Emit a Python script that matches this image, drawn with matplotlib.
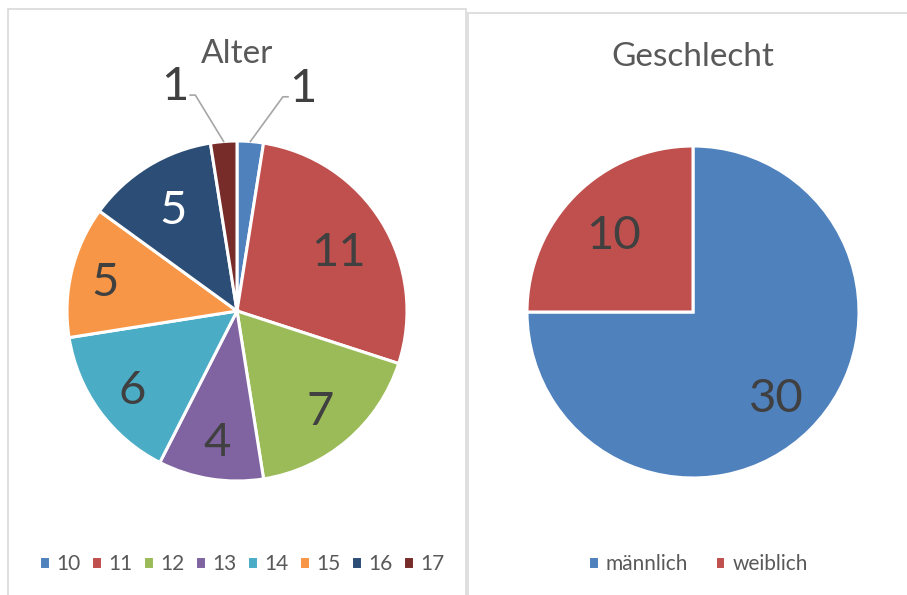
import matplotlib.pyplot as plt
from matplotlib.patches import Rectangle
import numpy as np

plt.rcParams['font.family'] = ['Lato', 'DejaVu Sans']

# Daten
alter_labels = ['10', '11', '12', '13', '14', '15', '16', '17']
alter_werte = [1, 11, 7, 4, 6, 5, 5, 1]
alter_farben = ['#4F81BD', '#C0504D', '#9BBB59', '#8064A2',
                '#4BACC6', '#F79646', '#2C4D75', '#772C2A']

geschlecht_labels = ['männlich', 'weiblich']
geschlecht_werte = [30, 10]
geschlecht_farben = ['#4F81BD', '#C0504D']

W, H = 907, 595
fig = plt.figure(figsize=(W / 100, H / 100), dpi=100)


def px_axes(cx, cy, r):
    # Achse um den Mittelpunkt (Pixel, von oben gemessen)
    return fig.add_axes([(cx - r) / W, 1 - (cy + r) / H, 2 * r / W, 2 * r / H])


# Rahmen der beiden Diagramme
fig.patches.append(Rectangle((8 / W, -0.01), 458 / W, 1 - 9 / H + 0.01,
                             transform=fig.transFigure, fill=False,
                             edgecolor='#D9D9D9', linewidth=1.2))
fig.patches.append(Rectangle((468 / W, -0.01), 445 / W, 1 - 13 / H + 0.01,
                             transform=fig.transFigure, fill=False,
                             edgecolor='#D9D9D9', linewidth=1.2))

leg_kw = dict(loc='center', frameon=False, fontsize=15, handlelength=0.5,
              handleheight=0.55, handletextpad=0.33, labelcolor='#595959')
kante = dict(edgecolor='white', linewidth=2.2)

# --- Alter ---
ax1 = px_axes(237, 311, 170)
wedges1, _ = ax1.pie(alter_werte, colors=alter_farben, startangle=90,
                     counterclock=False, wedgeprops=kante)
ax1.set_xlim(-1, 1)
ax1.set_ylim(-1, 1)

# Abstand der Beschriftung vom Mittelpunkt (Anteil des Radius)
abstand = [0, 0.70, 0.75, 0.76, 0.76, 0.80, 0.72, 0]
for i, w in enumerate(wedges1):
    ang = np.deg2rad((w.theta1 + w.theta2) / 2)
    if alter_werte[i] > 1:
        farbe = 'white' if i == 6 else '#404040'
        ax1.text(abstand[i] * np.cos(ang), abstand[i] * np.sin(ang),
                 str(alter_werte[i]), ha='center', va='center_baseline',
                 fontsize=34, color=farbe)

# kleine Segmente mit Führungslinien
for i, (lx, ly) in [(0, (0.39, 1.33)), (7, (-0.365, 1.34))]:
    w = wedges1[i]
    ang = np.deg2rad((w.theta1 + w.theta2) / 2)
    ex, ey = np.cos(ang), np.sin(ang)
    side = 1 if lx > 0 else -1
    knick = (lx - side * 0.12, ly - 0.07)
    ax1.plot([ex, knick[0], knick[0] + side * 0.03],
             [ey, knick[1], knick[1]], color='#A6A6A6', lw=1.2,
             clip_on=False)
    ax1.text(lx, ly, str(alter_werte[i]), ha='center', va='center_baseline',
             fontsize=34, color='#404040', clip_on=False)

fig.text(237 / W, 1 - 54 / H, 'Alter', ha='center', va='center',
         fontsize=24, color='#595959')
fig.legend(wedges1, alter_labels, ncol=8,
           bbox_to_anchor=(242 / W, 1 - 564 / H), columnspacing=0.5,
           **leg_kw)

# --- Geschlecht ---
ax2 = px_axes(693, 312, 166)
wedges2, _ = ax2.pie(geschlecht_werte, colors=geschlecht_farben, startangle=90,
                     counterclock=False, wedgeprops=kante)
ax2.set_xlim(-1, 1)
ax2.set_ylim(-1, 1)
abstand2 = [0.71, 0.68]
for i, w in enumerate(wedges2):
    ang = np.deg2rad((w.theta1 + w.theta2) / 2)
    ax2.text(abstand2[i] * np.cos(ang), abstand2[i] * np.sin(ang),
             str(geschlecht_werte[i]), ha='center', va='center_baseline',
             fontsize=34, color='#404040')

fig.text(693 / W, 1 - 57 / H, 'Geschlecht', ha='center', va='center',
         fontsize=24, color='#595959')
fig.legend(wedges2, geschlecht_labels, ncol=2,
           bbox_to_anchor=(698 / W, 1 - 564 / H), columnspacing=1.3,
           **leg_kw)

fig.savefig('out.png', dpi=100)
